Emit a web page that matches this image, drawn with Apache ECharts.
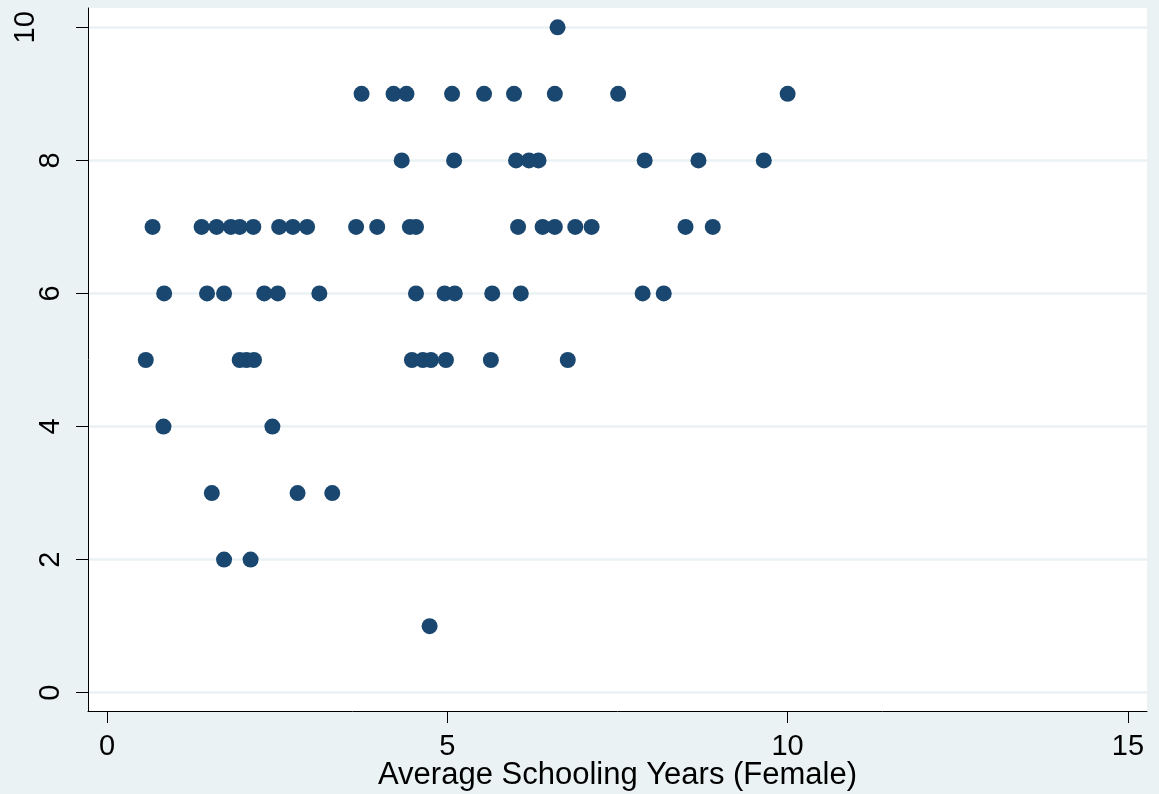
<!DOCTYPE html>
<html>
<head>
<meta charset="utf-8">
<title>Average Schooling Years (Female)</title>
<script src="https://cdn.jsdelivr.net/npm/echarts@6/dist/echarts.min.js"></script>
<style>
  html, body { margin: 0; padding: 0; background: #eaf2f3; }
  #chart { width: 1159px; height: 794px; }
</style>
</head>
<body>
<div id="chart"></div>
<script>
// x: average schooling years (female), y: score (integers)
const schooling = [
  6.62,
  3.74, 4.21, 4.40, 5.07, 5.54, 5.98, 6.58, 7.51, 10.00,
  4.33, 5.10, 6.01, 6.20, 6.34, 7.90, 8.69, 9.65,
  0.67, 1.39, 1.61, 1.82, 1.95, 2.15, 2.53, 2.73, 2.94, 3.66, 3.97, 4.45, 4.54, 6.04, 6.40, 6.58, 6.88, 7.12, 8.50, 8.90,
  0.84, 1.47, 1.72, 2.31, 2.51, 3.12, 4.54, 4.96, 5.11, 5.66, 6.08, 7.87, 8.18,
  0.57, 1.95, 2.05, 2.16, 4.48, 4.64, 4.76, 4.98, 5.64, 6.77,
  0.83, 2.43,
  1.54, 2.80, 3.31,
  1.72, 2.11,
  4.74
];
const score = [
  10,
  9, 9, 9, 9, 9, 9, 9, 9, 9,
  8, 8, 8, 8, 8, 8, 8, 8,
  7, 7, 7, 7, 7, 7, 7, 7, 7, 7, 7, 7, 7, 7, 7, 7, 7, 7, 7, 7,
  6, 6, 6, 6, 6, 6, 6, 6, 6, 6, 6, 6, 6,
  5, 5, 5, 5, 5, 5, 5, 5, 5, 5,
  4, 4,
  3, 3, 3,
  2, 2,
  1
];
const xTicks = [0, 5, 10, 15];
const yTicks = [0, 2, 4, 6, 8, 10];

const font = 'Liberation Sans, Arial, sans-serif';
const points = schooling.map((x, i) => [x, score[i]]);

const chart = echarts.init(document.getElementById('chart'));

const option = {
  backgroundColor: '#eaf2f3',
  animation: false,
  grid: {
    left: 88,
    right: 12,
    top: 8,
    bottom: 83,
    outerBoundsMode: 'none',
    containLabel: false,
    show: true,
    backgroundColor: '#ffffff',
    borderWidth: 0
  },
  xAxis: {
    type: 'value',
    min: -0.279,
    max: 15.28,
    name: 'Average Schooling Years (Female)',
    nameLocation: 'middle',
    nameGap: 49,
    nameMoveOverlap: false,
    nameTextStyle: { fontSize: 31, color: '#000', fontFamily: font },
    axisLine: { show: true, onZero: false, lineStyle: { color: '#000', width: 1 } },
    axisTick: { show: true, length: 12, customValues: xTicks, lineStyle: { color: '#000', width: 1 } },
    axisLabel: { customValues: xTicks, fontSize: 29, color: '#000', fontFamily: font, margin: 21 },
    splitLine: { show: false }
  },
  yAxis: {
    type: 'value',
    min: -0.275,
    max: 10.29,
    axisLine: { show: true, onZero: false, lineStyle: { color: '#000', width: 1 } },
    axisTick: { show: true, length: 12, customValues: yTicks, lineStyle: { color: '#000', width: 1 } },
    axisLabel: {
      customValues: yTicks,
      rotate: 90,
      margin: 23,
      fontSize: 29,
      color: '#000',
      fontFamily: font,
      formatter: v => (v >= 10 ? '{w|' + v + '}' : '{n|' + v + '}'),
      rich: {
        n: { fontSize: 29, color: '#000', fontFamily: font },
        w: { fontSize: 29, color: '#000', fontFamily: font, padding: [0, 0, 25, 0] }
      }
    },
    splitLine: { show: true, lineStyle: { color: '#eaf2f3', width: 2.5 } }
  },
  series: [
    {
      type: 'scatter',
      data: points,
      symbol: 'circle',
      symbolSize: 16,
      itemStyle: { color: '#1a476f', opacity: 1 }
    }
  ]
};

chart.setOption(option);
</script>
</body>
</html>
